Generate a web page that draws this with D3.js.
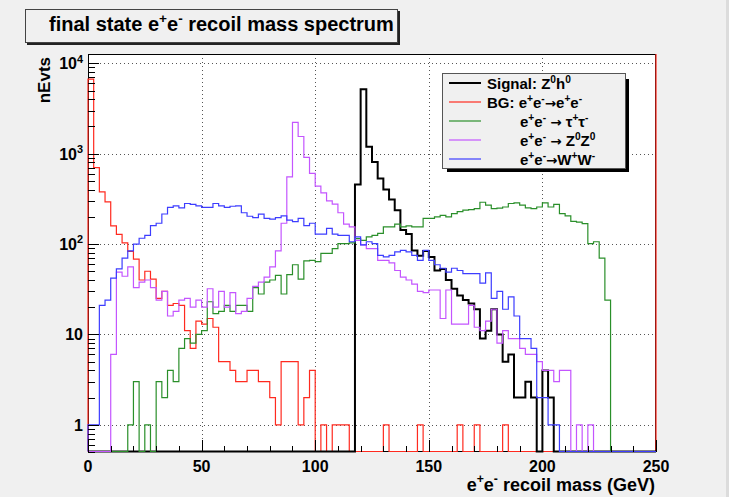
<!DOCTYPE html>
<html><head><meta charset="utf-8">
<script src="https://cdn.jsdelivr.net/npm/d3@7"></script>
<style>
body{margin:0;background:#f0f0f0;}
svg{display:block;font-family:"Liberation Sans",Arial,Helvetica,sans-serif;font-weight:bold;}
</style>
</head><body>
<svg id="chart" width="729" height="497"></svg>
<script>
// ---------------- data ----------------
const xMin = 0, xMax = 250, binWidth = 2.5;   // 100 bins of 2.5 GeV
const xTicks = [0, 50, 100, 150, 200, 250];
const yTicks = [1, 10, 100, 1000, 10000];
const yTickExp = ["", "", "2", "3", "4"];      // superscripts for 10^n labels
const yTickBase = ["1", "10", "10", "10", "10"];

const signalZh = [
  0,0,0,0,0,0,0,0,0,0, 0,0,0,0,0,0,0,0,0,0, 0,0,0,0,0,0,0,0,0,0,
  0,0,0,0,0,0,0,0,0,0, 0,0,0,0,0,0,0,456,5160,1190,
  811,532,402,311,237,143,129,85,74,84, 72,51,53,40,32,27,24,22,19,9,
  11,19,10,5,6,2,2,3,2,0, 4,2,0,0,0,0,0,0,0,0, 0,0,0,0,0,0,0,0,0,0];
const bgEE = [
  6700,700,378,293,159,128,103,83,68,40, 50,41,25,30,21,22,21,11,7,14,
  13,15,12,5,5,4,3,3,4,4, 3,3,2,1,5,5,5,1,2,4,
  0,1,0,1,1,1,0,0,0,0, 0,0,1,0,0,0,0,0,1,0, 0,0,0,0,0,1,0,0,1,0,
  0,0,0,1,0,0,0,0,0,0, 0,0,0,0,0,0,0,0,0,0, 0,0,0,0,0,0,0,0,0,0];
const bgTauTau = [
  0,0,0,0,0,0,0,1,3,0, 1,0,3,2,4,3,7,9,8,10,
  11,23,17,18,21,18,21,21,18,33, 28,38,40,45,28,46,59,41,65,66,
  64,79,79,89,101,101,103,115,110,120, 125,131,155,155,166,155,159,155,155,192,
  192,200,208,200,217,228,237,240,246,290, 269,246,250,257,281,286,269,252,246,257,
  286,257,275,217,205,178,175,168,101,106, 70,24,0,0,0,0,0,0,0,0];
const bgZZ = [
  0,0,0,0,6,49,44,56,33,38, 40,33,24,30,16,18,24,25,20,24,
  20,32,20,30,20,29,17,18,25,34, 38,43,56,84,170,555,2215,1550,910,604,
  437,368,300,276,222,166,155,110,98,89, 89,66,66,62,51,43,40,36,30,29,
  31,31,15,31,13,13,13,21,12,11, 14,19,8,11,9,9,7,6,6,5,
  4,4,3,4,4,0,1,0,1,0, 0,0,0,0,0,0,0,0,0,0];
const bgWW = [
  1,1,21,24,42,53,70,84,100,116, 125,160,170,215,255,265,252,281,275,265,
  254,254,281,265,254,262,265,222,203,196, 214,192,189,196,205,184,177,192,160,170,
  129,129,149,129,125,125,106,120,98,106, 101,75,72,75,82,85,82,75,66,85,
  66,59,54,49,54,51,47,47,47,37, 48,25,30,19,26,16,9,9,7,2,
  2,1,1,0,0,0,0,0,0,0, 0,0,0,0,0,0,0,0,0,0];
// overflow content (drawn as ROOT does at the right edge)
const overflow = [0, 1e6, 0, 0, 0];

const seriesNames = ["Signal: Z0h0", "BG: e+e-→e+e-", "e+e- → τ+τ-", "e+e- → Z0Z0", "e+e-→W+W-"];
const seriesValues = [signalZh, bgEE, bgTauTau, bgZZ, bgWW];
const seriesColors = ["#000000", "#ff2a1f", "#2a8f2a", "#c455ff", "#3d3dff"];
const seriesWidths = [2, 1.2, 1.2, 1.2, 1.2];
const drawOrder = [1, 0, 2, 3, 4];

// legend labels as rich text parts: [text, mode] mode 0 normal, 1 superscript, 2 arrow glyph
const legendParts = [
  [["Signal: Z",0],["0",1],["h",0],["0",1]],
  [["BG: e",0],["+",1],["e",0],["-",1],["\u2192",2],["e",0],["+",1],["e",0],["-",1]],
  [["e",0],["+",1],["e",0],["-",1],[" ",0],["\u2192",2],[" \u03c4",0],["+",1],["\u03c4",0],["-",1]],
  [["e",0],["+",1],["e",0],["-",1],[" ",0],["\u2192",2],[" Z",0],["0",1],["Z",0],["0",1]],
  [["e",0],["+",1],["e",0],["-",1],["\u2192",2],["W",0],["+",1],["W",0],["-",1]]
];
const legendIndent = [0, 0, 1, 1, 1];
const titleParts = [["final state e",0],["+",1],["e",0],["-",1],[" recoil mass spectrum",0]];
const xLabelParts = [["e",0],["+",1],["e",0],["-",1],[" recoil mass (GeV)",0]];
const yLabel = "nEvts";

// ---------------- layout ----------------
const svg = d3.select("#chart");
const L = 88, R = 656, T = 54, B = 452;
const x = d3.scaleLinear().domain([xMin, xMax]).range([L, R]);
const y = d3.scaleLog().domain([0.5, Math.pow(10, 4.103)]).range([B, T]);

function rich(sel, parts, size) {
  let shifted = false;
  parts.forEach(([t, mode]) => {
    const ts = sel.append("tspan").text(t);
    if (mode === 1) {
      ts.attr("font-size", 0.68*size);
      if (!shifted) { ts.attr("dy", -0.42*size); shifted = true; }
    } else {
      if (shifted) { ts.attr("dy", 0.42*size); shifted = false; }
      if (mode === 2) ts.attr("font-family", "DejaVu Sans").attr("font-size", 0.9*size);
    }
  });
}

svg.append("rect").attr("width",729).attr("height",497).attr("fill","#f0f0f0");
svg.append("rect").attr("x",726).attr("y",0).attr("width",3).attr("height",497).attr("fill","#dcdcdc");

// title box
svg.append("rect").attr("x",27).attr("y",11).attr("width",373).attr("height",34).attr("fill","#222");
svg.append("rect").attr("x",25.5).attr("y",9.5).attr("width",372).attr("height",33)
  .attr("fill","#f0f0f0").attr("stroke","#444").attr("stroke-width",1);
rich(svg.append("text").attr("x",49).attr("y",31).attr("font-size",20).attr("fill","#000"), titleParts, 20);

// plot area
svg.append("rect").attr("x",L).attr("y",T).attr("width",R-L).attr("height",B-T).attr("fill","#fff");

// grid
const grid = svg.append("g").attr("stroke","#555").attr("stroke-width",1).attr("stroke-dasharray","1,3");
xTicks.filter(v => v > xMin && v < xMax).forEach(v => {
  grid.append("line").attr("x1",Math.round(x(v))+0.5).attr("x2",Math.round(x(v))+0.5).attr("y1",T).attr("y2",B);
});
yTicks.forEach(v => {
  grid.append("line").attr("x1",L).attr("x2",R).attr("y1",Math.round(y(v))+0.5).attr("y2",Math.round(y(v))+0.5);
});

// frame
svg.append("rect").attr("x",L+0.5).attr("y",T+0.5).attr("width",R-L-1).attr("height",B-T-1)
  .attr("fill","none").attr("stroke","#000").attr("stroke-width",1);

// histograms
svg.append("clipPath").attr("id","clip").append("rect").attr("x",L-1).attr("y",T).attr("width",R-L+2).attr("height",B-T+1);
const hg = svg.append("g").attr("clip-path","url(#clip)").attr("fill","none");
drawOrder.forEach(i => {
  const vals = seriesValues[i];
  const yb = B - 0.5;
  let d = `M${x(xMin)},${yb}`;
  vals.forEach((v, k) => {
    const yy = v > 0 ? y(v) : yb;
    d += `V${yy}H${x(xMin + (k+1)*binWidth)}`;
  });
  d += `V${overflow[i] > 0 ? Math.max(y(overflow[i]), T - 2) : yb}`;
  hg.append("path").attr("d", d).attr("stroke", seriesColors[i]).attr("stroke-width", seriesWidths[i])
    .attr("stroke-linejoin","miter");
});

// ticks
const tk = svg.append("g").attr("stroke","#000").attr("stroke-width",1);
d3.range(xMin, xMax + 0.001, 10).forEach(v => {
  const major = v % 50 === 0;
  const px = Math.round(x(v)) + 0.5;
  tk.append("line").attr("x1",px).attr("x2",px).attr("y1",B).attr("y2",B - (major ? 12 : 6));
});
[-1,0,1,2,3,4].forEach(e => {
  for (let m = 1; m <= 9; m++) {
    const v = m * Math.pow(10, e);
    if (v < 0.5 || v > Math.pow(10,4.103)) continue;
    const py = Math.round(y(v)) + 0.5;
    tk.append("line").attr("x1",L).attr("x2",L + (m === 1 ? 11 : 7)).attr("y1",py).attr("y2",py);
  }
});

// tick labels
xTicks.forEach(v => {
  svg.append("text").attr("x",x(v)).attr("y",472).attr("text-anchor","middle").attr("font-size",16).text(v);
});
yTicks.forEach((v, i) => {
  const t = svg.append("text").attr("x",83).attr("y",y(v) + 6).attr("text-anchor","end").attr("font-size",16);
  if (yTickExp[i]) rich(t, [[yTickBase[i],0],[yTickExp[i],1]], 16);
  else t.text(yTickBase[i]);
});

// axis titles
rich(svg.append("text").attr("x",655).attr("y",491).attr("text-anchor","end").attr("font-size",18), xLabelParts, 18);
svg.append("text").attr("transform","translate(50,57) rotate(-90)").attr("text-anchor","end")
  .attr("font-size",17).text(yLabel);

// legend
const lx = 442, ly = 73, lw = 183, lh = 95;
svg.append("rect").attr("x",lx+5).attr("y",ly+6).attr("width",lw-1).attr("height",lh-2).attr("fill","#000");
svg.append("rect").attr("x",lx+0.5).attr("y",ly+0.5).attr("width",lw).attr("height",lh)
  .attr("fill","#f0f0f0").attr("stroke","#555").attr("stroke-width",1);
seriesNames.forEach((name, i) => {
  const ry = 83 + i*19;
  svg.append("line").attr("x1",449).attr("x2",481).attr("y1",ry).attr("y2",ry)
    .attr("stroke",seriesColors[i]).attr("stroke-width",seriesWidths[i]);
  const t = svg.append("text").attr("x", legendIndent[i] ? 520 : 487).attr("y", ry + 6).attr("font-size",15);
  rich(t, legendParts[i], 15);
});
</script>
</body></html>
